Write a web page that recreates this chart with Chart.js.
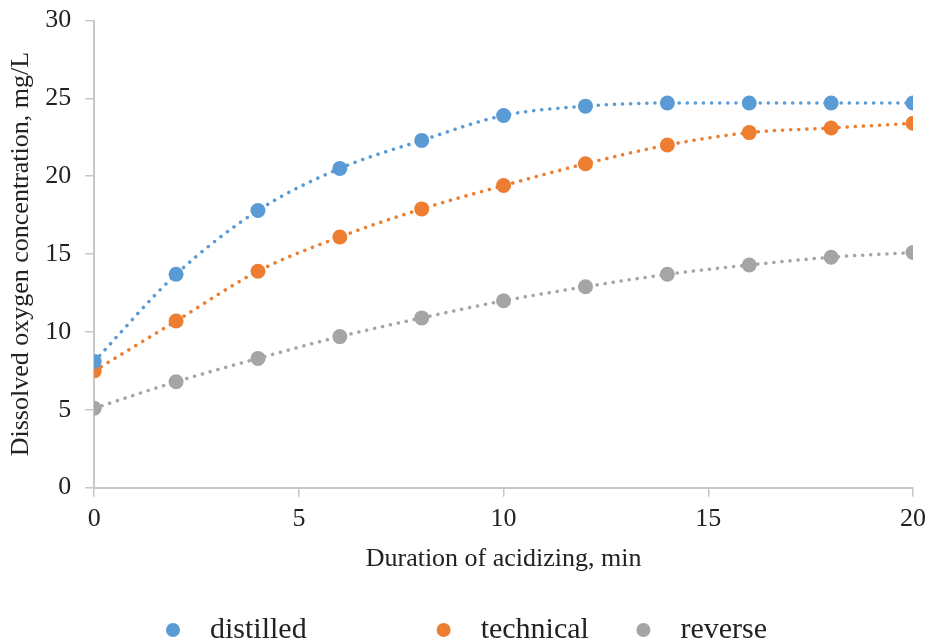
<!DOCTYPE html>
<html>
<head>
<meta charset="utf-8">
<script src="https://cdn.jsdelivr.net/npm/chart.js@4.4.1/dist/chart.umd.min.js"></script>
<style>
  html, body { margin: 0; padding: 0; background: #fff; }
  #wrap { width: 927px; height: 641px; }
</style>
</head>
<body>
<div id="wrap"><canvas id="chart"></canvas></div>
<script>
// duration of acidizing, min
const minutes = [0, 2, 4, 6, 8, 10, 12, 14, 16, 18, 20];

// dissolved oxygen concentration, mg/L
const distilled = [8.1, 13.7, 17.8, 20.5, 22.3, 23.9, 24.5, 24.7, 24.7, 24.7, 24.7];
const technical = [7.5, 10.7, 13.9, 16.1, 17.9, 19.4, 20.8, 22.0, 22.8, 23.1, 23.4];
const reverse = [5.1, 6.8, 8.3, 9.7, 10.9, 12.0, 12.9, 13.7, 14.3, 14.8, 15.1];

const seriesNames = ['distilled', 'technical', 'reverse'];
const colors = ['#5b9bd5', '#ed7d31', '#a5a5a5'];

const xTitle = 'Duration of acidizing, min';
const yTitle = 'Dissolved oxygen concentration, mg/L';

const font = 'Liberation Serif';
const axisGrey = '#c8c8c8';

function makeSet(name, values, color) {
    return {
        label: name,
        data: values.map((v, i) => ({ x: minutes[i], y: v })),
        showLine: true,
        borderColor: color,
        backgroundColor: color,
        borderWidth: 3.5,
        borderDash: [0.1, 8],
        borderCapStyle: 'round',
        cubicInterpolationMode: 'monotone',
        pointRadius: 7.5,
        pointHoverRadius: 7.5,
        pointBorderWidth: 0,
        pointBackgroundColor: color,
    };
}

const datasets = [
    makeSet(seriesNames[0], distilled, colors[0]),
    makeSet(seriesNames[1], technical, colors[1]),
    makeSet(seriesNames[2], reverse, colors[2]),
];

// spacing around each legend label, like the original figure
const legendBefore = '  ';
const legendAfter = ['                ', '     ', ''];

const ctx = document.getElementById('chart').getContext('2d');
new Chart(ctx, {
    type: 'scatter',
    data: { datasets: datasets },
    options: {
        responsive: true,
        maintainAspectRatio: false,
        animation: false,
        layout: { padding: { top: 0, right: 0, left: 6, bottom: -14 } },
        scales: {
            x: {
                type: 'linear',
                min: 0,
                max: 20,
                ticks: {
                    stepSize: 5,
                    color: '#222',
                    // tall line box keeps the labels low with a small padding
                    font: { family: font, size: 26, lineHeight: 1.66 },
                    padding: 1,
                },
                grid: {
                    drawOnChartArea: false,
                    drawTicks: true,
                    tickLength: 9,
                    color: axisGrey,
                    lineWidth: 1.5,
                },
                border: { color: axisGrey, width: 2 },
                title: {
                    display: true,
                    text: xTitle,
                    color: '#222',
                    font: { family: font, size: 26 },
                    padding: { top: 2, bottom: 30 },
                },
            },
            y: {
                min: 0,
                max: 30,
                ticks: {
                    stepSize: 5,
                    color: '#222',
                    font: { family: font, size: 26, lineHeight: 0.5 },
                    padding: 14,
                },
                grid: {
                    drawOnChartArea: false,
                    drawTicks: true,
                    tickLength: 9,
                    color: axisGrey,
                    lineWidth: 1.5,
                },
                border: { color: axisGrey, width: 2 },
                title: {
                    display: true,
                    text: yTitle,
                    color: '#222',
                    font: { family: font, size: 26 },
                    padding: { top: 0, bottom: -6 },
                },
            },
        },
        plugins: {
            legend: {
                display: true,
                position: 'bottom',
                labels: {
                    usePointStyle: true,
                    pointStyle: 'circle',
                    boxHeight: 10,
                    pointStyleWidth: 14,
                    padding: 10,
                    color: '#222',
                    font: { family: font, size: 30 },
                    generateLabels: function(chart) {
                        return chart.data.datasets.map((ds, i) => ({
                            text: legendBefore + ds.label + legendAfter[i],
                            fillStyle: ds.backgroundColor,
                            strokeStyle: ds.backgroundColor,
                            lineWidth: 0,
                            pointStyle: 'circle',
                            hidden: false,
                            datasetIndex: i,
                            fontColor: '#222',
                        }));
                    },
                },
            },
            tooltip: { enabled: false },
        },
    },
});
</script>
</body>
</html>
